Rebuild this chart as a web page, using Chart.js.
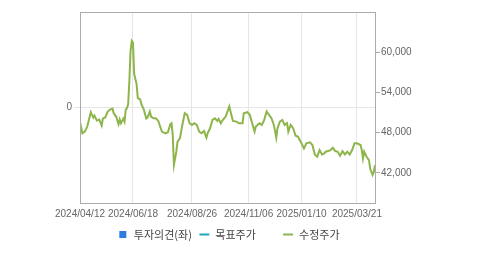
<!DOCTYPE html>
<html>
<head>
<meta charset="utf-8">
<script src="https://cdn.jsdelivr.net/npm/chart.js@4.4.1/dist/chart.umd.min.js"></script>
<style>
  html, body { margin: 0; padding: 0; background: #fff; }
  #wrap { width: 479px; height: 255px; }
</style>
</head>
<body>
<div id="wrap"><canvas id="line-chart"></canvas></div>
<script>
// trading-day index (0 = 2024/04/12) and adjusted close
var dayIdx = [0, 2, 4, 6, 9, 11, 12, 14, 16, 18, 19, 21, 23, 25, 27, 28, 30, 32, 33, 34,
  36, 37, 38, 39, 40, 41, 42, 43, 44, 45, 47, 48, 50, 51, 53, 55, 56, 58, 59, 61,
  63, 65, 68, 71, 73, 75, 76, 77, 78, 80, 81, 83, 85, 87, 89, 91, 93, 95, 97, 99,
  101, 103, 105, 106, 108, 110, 112, 114, 115, 117, 118, 121, 122, 124, 125, 127, 130, 132, 135, 136,
  139, 141, 143, 145, 146, 149, 151, 153, 155, 157, 159, 161, 163, 164, 166, 168, 170, 172, 173, 175,
  177, 179, 181, 184, 186, 188, 191, 193, 195, 197, 199, 201, 203, 204, 206, 208, 210, 212, 214, 216,
  218, 220, 222, 224, 226, 228, 230, 233, 234, 235, 236, 238, 240, 241, 243, 244, 245];
var prices = [49550, 47900, 48150, 48900, 51050, 50250, 50550, 49800, 49950, 49050, 50100, 50260, 51150, 51450, 51600, 50900, 50400, 49250, 49950, 49400,
  50100, 49650, 51450, 51650, 52250, 55700, 60200, 61700, 61450, 56750, 55250, 53150, 52950, 52250, 51450, 50100, 50250, 51150, 50400, 50150,
  50150, 49750, 48150, 47900, 48050, 49250, 49400, 47700, 43200, 45150, 46650, 47150, 49150, 50900, 50650, 49400, 49150, 49400, 49150, 48150,
  47900, 48250, 47250, 47900, 48650, 49900, 50150, 49750, 50050, 49400, 49750, 50400, 50900, 51900, 51150, 49750, 49650, 49400, 49400, 50900,
  51050, 50650, 49400, 48150, 48900, 49400, 49150, 49900, 51150, 50650, 50150, 49150, 47250, 48650, 49650, 49900, 49150, 49400, 48150, 49150,
  48650, 47550, 47400, 46400, 45650, 46400, 46550, 46150, 44750, 44400, 45400, 44750, 44900, 45150, 45250, 45400, 45750, 45250, 45150, 44550,
  45250, 44750, 45150, 44750, 45400, 46400, 46400, 46150, 45400, 44150, 45150, 44400, 43900, 42600, 41700, 42100, 43150];

var tickIdx = [0, 44, 93, 140, 184, 230];
var tickLabels = ['2024/04/12', '2024/06/18', '2024/08/26', '2024/11/06', '2025/01/10', '2025/03/21'];
var priceTicks = [42000, 48000, 54000, 60000];
var opinionTicks = [0];
var legendNames = ['투자의견(좌)', '목표주가', '수정주가'];

var series = dayIdx.map(function(d, i) { return { x: d, y: prices[i] }; });

var txt = '#666';
var grid = '#e6e6e6';
var frame = '#ababab';
var font = { family: '"Liberation Sans", Arial, "Noto Sans CJK KR", sans-serif', size: 10 };

// box round the plot area
var framePlugin = {
  id: 'frame',
  afterDraw: function(chart) {
    var a = chart.chartArea, ctx = chart.ctx;
    ctx.save();
    ctx.strokeStyle = frame;
    ctx.lineWidth = 1;
    ctx.strokeRect(Math.round(a.left) + 0.5, Math.round(a.top) + 0.5, Math.round(a.right - a.left), Math.round(a.bottom - a.top));
    ctx.restore();
  }
};

new Chart(document.getElementById('line-chart'), {
  data: {
    datasets: [
      { type: 'bar', label: legendNames[0], data: [], yAxisID: 'yL', backgroundColor: '#2b7de0' },
      { type: 'line', label: legendNames[1], data: [], yAxisID: 'yR', borderColor: '#22a6b8', borderWidth: 2 },
      { type: 'line', label: legendNames[2], data: series, yAxisID: 'yR', borderColor: '#8db54b', borderWidth: 2,
        pointRadius: 0, tension: 0, fill: false }
    ]
  },
  options: {
    responsive: true,
    maintainAspectRatio: false,
    animation: false,
    layout: { padding: { top: 12, left: 0, right: 0, bottom: 5 } },
    plugins: {
      tooltip: { enabled: false },
      legend: {
        position: 'bottom',
        labels: {
          font: { family: '"Noto Sans CJK KR", sans-serif', size: 11 },
          color: '#444',
          usePointStyle: true,
          boxHeight: 7,
          padding: 7,
          generateLabels: function(chart) {
            var styles = ['rect', 'line', 'line'];
            // extra blank room after the 2nd/3rd names, as in the source legend
            var pad = ['', '        ', '         '];
            return chart.data.datasets.map(function(ds, i) {
              var c = ds.backgroundColor || ds.borderColor;
              return { text: ds.label + pad[i], fillStyle: c, strokeStyle: c, lineWidth: i === 0 ? 0 : 2,
                pointStyle: styles[i], datasetIndex: i, fontColor: '#444' };
            });
          }
        }
      }
    },
    scales: {
      x: {
        type: 'linear', position: 'bottom', min: 0, max: 245, offset: false,
        afterBuildTicks: function(axis) { axis.ticks = tickIdx.map(function(v) { return { value: v }; }); },
        afterFit: function(axis) { axis.height = 19; },
        ticks: {
          autoSkip: false, maxRotation: 0, color: txt, font: font, padding: 5,
          callback: function(v) { var k = tickIdx.indexOf(v); return k < 0 ? '' : tickLabels[k]; }
        },
        grid: { color: grid, drawTicks: false, offset: false },
        border: { display: false }
      },
      yL: {
        type: 'linear', position: 'left', min: -1, max: 1,
        afterBuildTicks: function(axis) { axis.ticks = opinionTicks.map(function(v) { return { value: v }; }); },
        afterFit: function(axis) { axis.width = 80; },
        ticks: { color: txt, font: font, padding: 2 },
        grid: { color: grid, tickLength: 6 },
        border: { display: false }
      },
      yR: {
        type: 'linear', position: 'right', min: 37500, max: 66000,
        afterBuildTicks: function(axis) { axis.ticks = priceTicks.map(function(v) { return { value: v }; }); },
        afterFit: function(axis) { axis.width = 104; },
        ticks: { color: txt, font: font, padding: 1,
          callback: function(v) { return v.toLocaleString('en-US'); } },
        grid: { drawOnChartArea: false, color: frame, tickLength: 5 },
        border: { display: false }
      }
    }
  },
  plugins: [framePlugin]
});
</script>
</body>
</html>
